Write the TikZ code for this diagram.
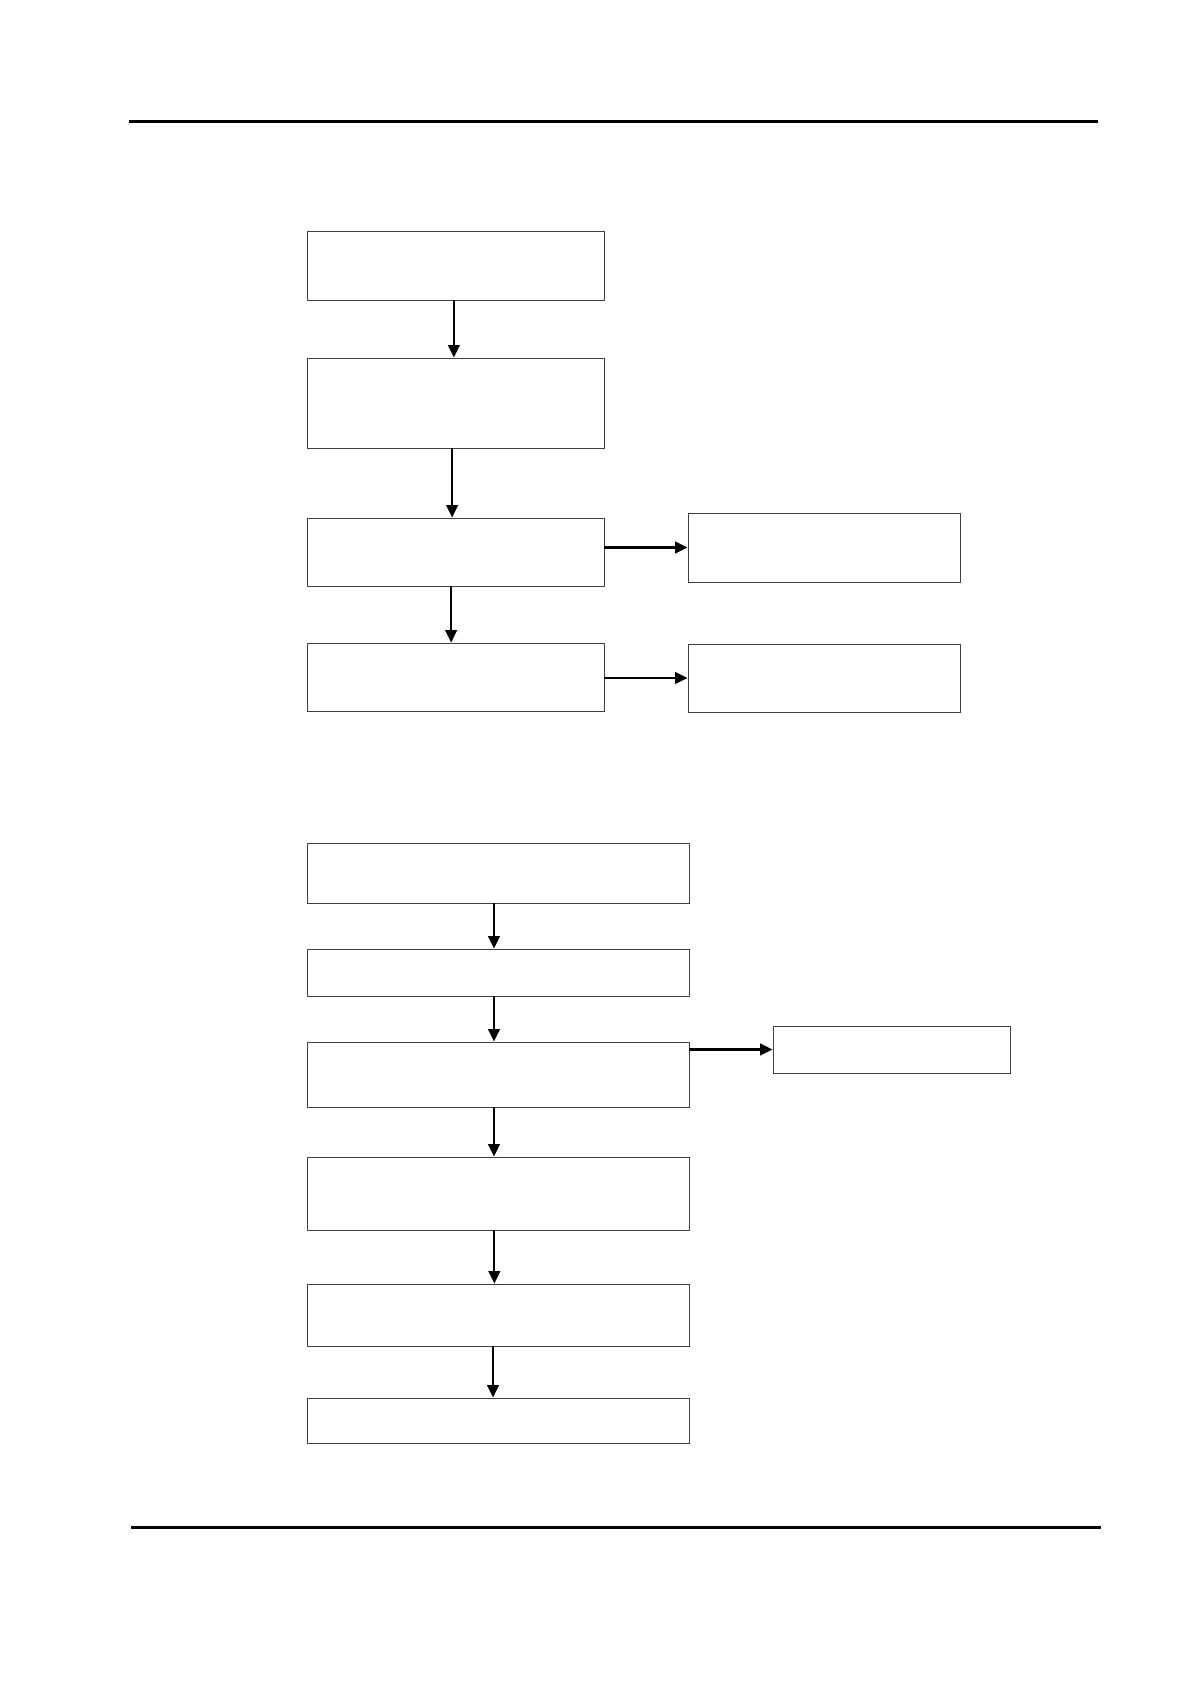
\documentclass[tikz,border=0pt]{standalone}
\usetikzlibrary{arrows.meta,fit}
\begin{document}
\begin{tikzpicture}[x=0.6pt,y=-0.6pt,
  box/.style={draw=black!75,line width=0.55pt,rectangle,inner sep=0pt,fill=white},
  arr/.style={draw=black,line width=1.3pt,-{Triangle[length=7.5pt,width=7pt]}},
  rule/.style={draw=black,line width=1.4pt}]
\useasboundingbox (0,0) rectangle (1190,1684);
\fill[white] (0,0) rectangle (1190,1684);
% header and footer rules
\coordinate (hl) at (129,121.5);
\coordinate (hr) at (1098,121.5);
\coordinate (fl) at (131,1527.5);
\coordinate (fr) at (1101,1527.5);
\draw[rule] (hl) -- (hr);
\draw[rule] (fl) -- (fr);
% upper flow
\node[box,fit={(307,231) (604,300)}] (b1) {};
\node[box,fit={(307,358) (604,448)}] (b2) {};
\node[box,fit={(307,518) (604,586)}] (b3) {};
\node[box,fit={(307,643) (604,711)}] (b4) {};
\node[box,fit={(688,513) (960,582)}] (ba) {};
\node[box,fit={(688,644) (960,712)}] (bb) {};
\draw[arr] ([xshift=-1pt]b1.south) -- ([xshift=-1pt]b2.north);
\draw[arr] ([xshift=-2pt]b2.south) -- ([xshift=-2pt]b3.north);
\draw[arr] ([xshift=-2.6pt]b3.south) -- ([xshift=-2.6pt]b4.north);
\draw[arr] (b3.east |- ba.west) -- (ba.west);
\draw[arr] (b4.east |- bb.west) -- (bb.west);
% lower flow
\node[box,fit={(307,843) (689,903)}] (c1) {};
\node[box,fit={(307,949) (689,996)}] (c2) {};
\node[box,fit={(307,1042) (689,1107)}] (c3) {};
\node[box,fit={(307,1157) (689,1230)}] (c4) {};
\node[box,fit={(307,1284) (689,1346)}] (c5) {};
\node[box,fit={(307,1398) (689,1443)}] (c6) {};
\node[box,fit={(773,1026) (1010,1073)}] (cf) {};
\draw[arr] ([xshift=-2.4pt]c1.south) -- ([xshift=-2.4pt]c2.north);
\draw[arr] ([xshift=-2.4pt]c2.south) -- ([xshift=-2.4pt]c3.north);
\draw[arr] ([xshift=-2.4pt]c3.south) -- ([xshift=-2.4pt]c4.north);
\draw[arr] ([xshift=-2.2pt]c4.south) -- ([xshift=-2.2pt]c5.north);
\draw[arr] ([xshift=-3pt]c5.south) -- ([xshift=-3pt]c6.north);
\draw[arr] (c3.east |- cf.west) -- (cf.west);
\end{tikzpicture}
\end{document}
